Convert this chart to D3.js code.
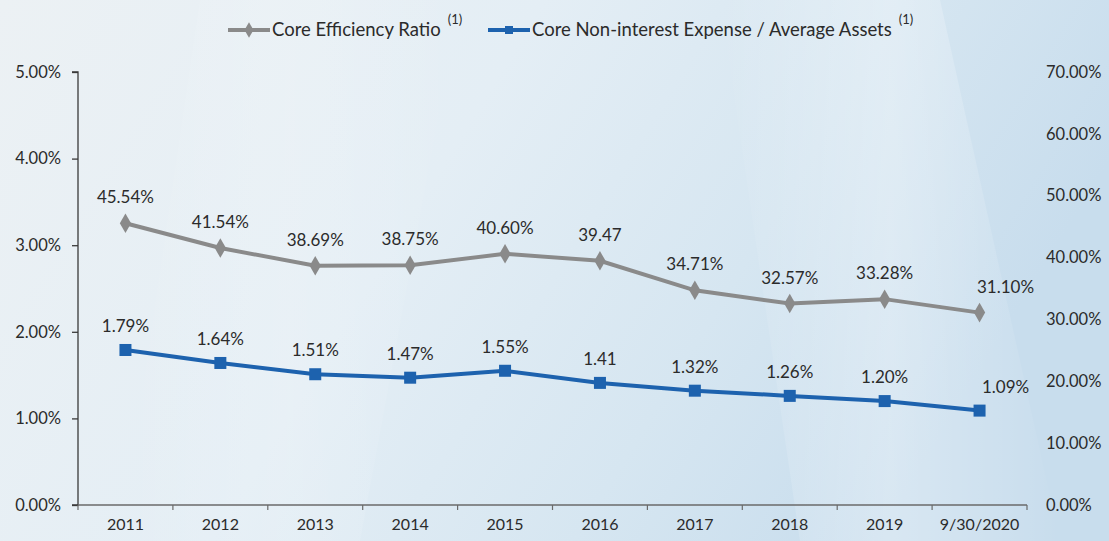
<!doctype html>
<html lang="en">
<head>
    <title></title>
    <script src="https://d3js.org/d3.v7.min.js"></script>
    <style type="text/css">
        body { margin: 0; }
        text { font-family: Lato, "Open Sans", sans-serif; fill: #2b2b2b; }
    </style>
</head>
<body>
</body>
<script type="text/javascript">

    var years      = ["2011","2012","2013","2014","2015","2016","2017","2018","2019","9/30/2020"];
    var efficiency = [45.54, 41.54, 38.69, 38.75, 40.60, 39.47, 34.71, 32.57, 33.28, 31.10];
    var effLabels  = ["45.54%","41.54%","38.69%","38.75%","40.60%","39.47","34.71%","32.57%","33.28%","31.10%"];
    var expense    = [1.79, 1.64, 1.51, 1.47, 1.55, 1.41, 1.32, 1.26, 1.20, 1.09];
    var expLabels  = ["1.79%","1.64%","1.51%","1.47%","1.55%","1.41","1.32%","1.26%","1.20%","1.09%"];
    var leftTicks  = [0, 1, 2, 3, 4, 5];
    var rightTicks = [0, 10, 20, 30, 40, 50, 60, 70];

    var width = 1109, height = 541;
    var mLeft = 78, mRight = 1027, mTop = 72, mBottom = 505;

    var svg = d3.select("body").append("svg")
        .attr("width", width)
        .attr("height", height);

    // background
    var defs = svg.append("defs");
    var bg = defs.append("linearGradient").attr("id", "bg")
        .attr("x1", "0").attr("y1", "0").attr("x2", "1").attr("y2", "0.3");
    bg.append("stop").attr("offset", "0").attr("stop-color", "#ecf1f4");
    bg.append("stop").attr("offset", "0.45").attr("stop-color", "#e4eef5");
    bg.append("stop").attr("offset", "0.75").attr("stop-color", "#d6e6f1");
    bg.append("stop").attr("offset", "1").attr("stop-color", "#c8dded");
    svg.append("rect").attr("width", width).attr("height", height).attr("fill", "url(#bg)");

    var streak = defs.append("linearGradient").attr("id", "streak")
        .attr("x1", "0").attr("y1", "0").attr("x2", "1").attr("y2", "0");
    streak.append("stop").attr("offset", "0").attr("stop-color", "#ffffff").attr("stop-opacity", 0);
    streak.append("stop").attr("offset", "0.5").attr("stop-color", "#ffffff").attr("stop-opacity", 0.3);
    streak.append("stop").attr("offset", "1").attr("stop-color", "#ffffff").attr("stop-opacity", 0);
    svg.append("polygon").attr("points", "720,0 940,0 1060,541 800,541").attr("fill", "url(#streak)");
    svg.append("polygon").attr("points", "200,0 460,0 360,541 120,541").attr("fill", "url(#streak)").attr("opacity", 0.5);

    var x = d3.scaleBand().domain(years).range([mLeft, mRight]);
    var yLeft = d3.scaleLinear().domain([0, 5]).range([mBottom, mTop]);
    var yRight = d3.scaleLinear().domain([0, 70]).range([mBottom, mTop]);
    var cx = function(d, i) { return x(years[i]) + x.bandwidth() / 2; };

    // left axis
    var gl = svg.append("g").attr("transform", "translate(" + mLeft + ",0)")
        .call(d3.axisLeft(yLeft).tickValues(leftTicks).tickSize(6).tickPadding(11)
            .tickFormat(function(d) { return d.toFixed(2) + "%"; }));
    gl.selectAll("path, line").attr("stroke", "#3a3a3a").attr("stroke-width", 1.3);
    gl.selectAll("text").style("font-size", "16.5px").attr("fill", "#2b2b2b");
    gl.select(".domain").attr("d", "M-6," + mTop + "H0V" + mBottom + "H-6");

    // right axis (labels only)
    var gr = svg.append("g").attr("transform", "translate(" + (mRight + 19) + ",0)")
        .call(d3.axisRight(yRight).tickValues(rightTicks).tickSize(0).tickPadding(0)
            .tickFormat(function(d) { return d.toFixed(2) + "%"; }));
    gr.select(".domain").remove();
    gr.selectAll("text").style("font-size", "16.5px").attr("fill", "#2b2b2b");

    // x axis
    var gx = svg.append("g").attr("transform", "translate(0," + mBottom + ")")
        .call(d3.axisBottom(x).tickSize(0).tickPadding(14));
    gx.select(".domain").attr("stroke", "#6a6a6a").attr("stroke-width", 1.3)
        .attr("d", "M" + mLeft + ",0H" + mRight);
    gx.selectAll("text").style("font-size", "16px").attr("fill", "#2b2b2b");
    gx.selectAll(".sep").data(years.concat(["end"])).enter().append("line")
        .attr("x1", function(d, i) { return mLeft + i * x.bandwidth(); })
        .attr("x2", function(d, i) { return mLeft + i * x.bandwidth(); })
        .attr("y1", 0).attr("y2", 5)
        .attr("stroke", "#6a6a6a").attr("stroke-width", 1.2);

    // efficiency series (right axis)
    var gray = "#8a8a8a", blue = "#1d62ae";
    svg.append("path").datum(efficiency)
        .attr("d", d3.line().x(cx).y(function(d) { return yRight(d); }))
        .attr("fill", "none").attr("stroke", gray).attr("stroke-width", 4);
    svg.selectAll(".dia").data(efficiency).enter().append("path")
        .attr("d", d3.symbol().type(d3.symbolDiamond).size(110))
        .attr("transform", function(d, i) { return "translate(" + cx(d, i) + "," + yRight(d) + ")"; })
        .attr("fill", gray);

    // expense series (left axis)
    svg.append("path").datum(expense)
        .attr("d", d3.line().x(cx).y(function(d) { return yLeft(d); }))
        .attr("fill", "none").attr("stroke", blue).attr("stroke-width", 4);
    svg.selectAll(".sq").data(expense).enter().append("rect")
        .attr("x", function(d, i) { return cx(d, i) - 6; })
        .attr("y", function(d) { return yLeft(d) - 6; })
        .attr("width", 12).attr("height", 12)
        .attr("fill", blue);

    // data labels
    var dx = function(i) { return i === years.length - 1 ? 26 : 0; };
    svg.selectAll(".effl").data(efficiency).enter().append("text")
        .attr("x", function(d, i) { return cx(d, i) + dx(i); })
        .attr("y", function(d) { return yRight(d) - 20; })
        .attr("text-anchor", "middle").style("font-size", "17px")
        .text(function(d, i) { return effLabels[i]; });
    svg.selectAll(".expl").data(expense).enter().append("text")
        .attr("x", function(d, i) { return cx(d, i) + dx(i); })
        .attr("y", function(d) { return yLeft(d) - 18; })
        .attr("text-anchor", "middle").style("font-size", "17px")
        .text(function(d, i) { return expLabels[i]; });

    // legend
    var legend = [
        {name: "Core Efficiency Ratio", color: gray, x: 228, shape: "diamond"},
        {name: "Core Non-interest Expense / Average Assets", color: blue, x: 488, shape: "square"}
    ];
    legend.forEach(function(l) {
        var g = svg.append("g").attr("transform", "translate(" + l.x + ",30)");
        g.append("line").attr("x1", 0).attr("x2", 42).attr("y1", 0).attr("y2", 0)
            .attr("stroke", l.color).attr("stroke-width", 4);
        if (l.shape === "diamond") {
            g.append("path").attr("d", d3.symbol().type(d3.symbolDiamond).size(70))
                .attr("transform", "translate(21,0)").attr("fill", l.color);
        } else {
            g.append("rect").attr("x", 17).attr("y", -4).attr("width", 8).attr("height", 8).attr("fill", l.color);
        }
        var t = g.append("text").attr("x", 44).attr("y", 6).style("font-size", "18.5px").text(l.name);
        var w = t.node().getComputedTextLength();
        g.append("text").attr("x", 44 + w + 7).attr("y", -6).style("font-size", "13px").text("(1)");
    });

</script>
</html>
